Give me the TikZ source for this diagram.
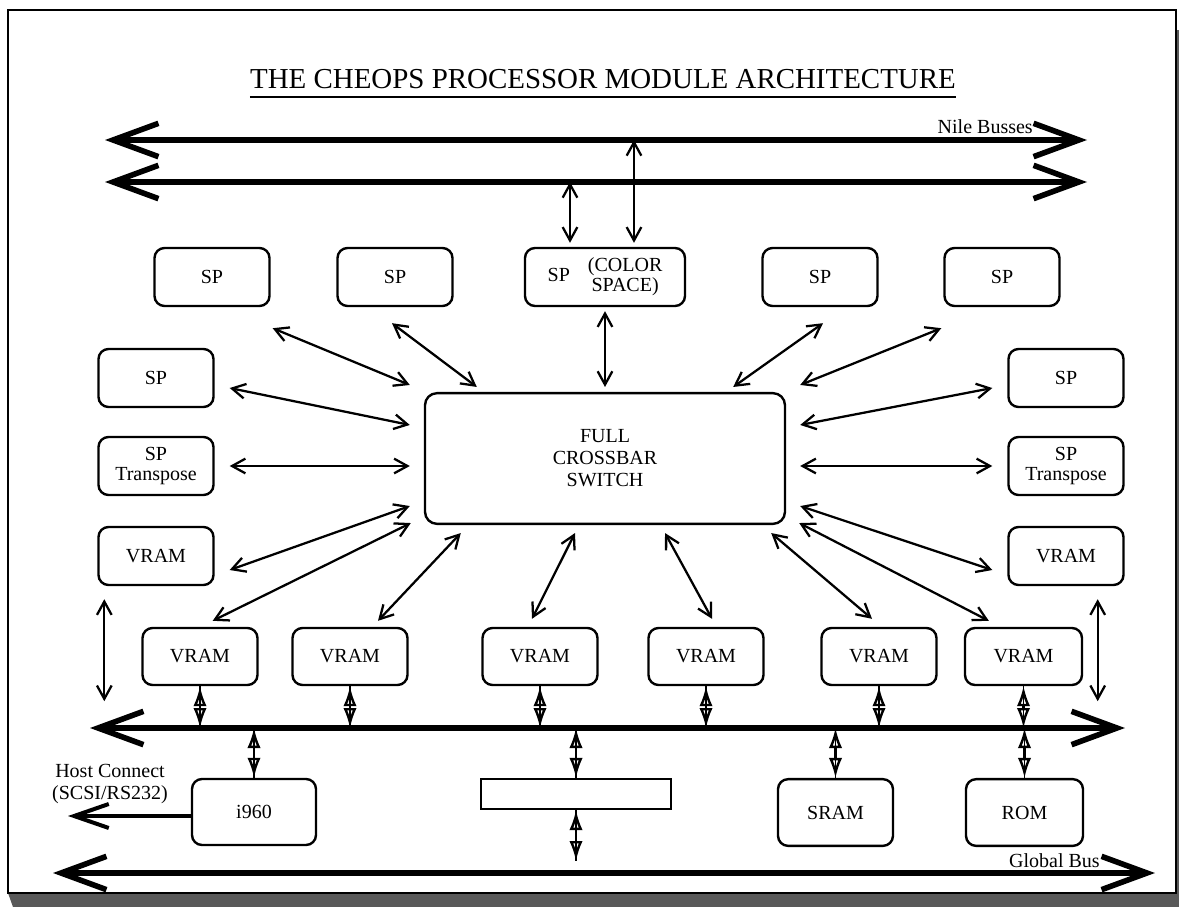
\documentclass[tikz,border=0pt]{standalone}
\usepackage{fontspec}
\setmainfont{Liberation Serif}
\usetikzlibrary{arrows.meta}
\begin{document}
\begin{tikzpicture}[x=0.75pt,y=-0.75pt,
  box/.style={draw,line width=1.8pt,rounded corners=7.5pt,minimum width=86.25pt,
    minimum height=43.5pt,align=center,inner sep=1pt,font=\fontsize{15}{16.5}\selectfont},
  bus/.style={line width=4.2pt,{Straight Barb[length=34pt,width=25pt]}-{Straight Barb[length=34pt,width=25pt]}},
  link/.style={line width=1.7pt,{Straight Barb[length=10pt,width=11pt]}-{Straight Barb[length=10pt,width=11pt]}},
  dia/.style={line width=1.8pt,{Latex[open,length=15pt,width=10pt]}-{Latex[open,length=15pt,width=10pt]}},
  lbl/.style={font=\fontsize{15}{16.5}\selectfont,inner sep=0pt,align=center}]
\useasboundingbox (0,0) rectangle (1179,907);
% frame with shadow
\fill[black!65] (8,893) -- (1179,893) -- (1179,907) -- (13,907) -- cycle;
\fill[black!65] (1176,30) rectangle (1179,893);
\draw[line width=1.8pt] (8,10) rectangle (1176,893);

% title
\node[font=\fontsize{21.7}{24}\selectfont,inner sep=0pt,anchor=base] (title) at (603,88)
  {THE CHEOPS PROCESSOR MODULE ARCHITECTURE};
\draw[line width=1.1pt] ([yshift=-6.75pt]title.base west) -- ([yshift=-6.75pt]title.base east);

% busses
\coordinate (nA1) at (105,140); \coordinate (nA2) at (1087,140);
\coordinate (nB1) at (105,182); \coordinate (nB2) at (1087,182);
\coordinate (lb1) at (90,728);  \coordinate (lb2) at (1125,728);
\coordinate (gb1) at (53,873);  \coordinate (gb2) at (1155,873);
\draw[bus] (nA1) -- (nA2);
\draw[bus] (nB1) -- (nB2);
\draw[bus] (lb1) -- (lb2);
\draw[bus] (gb1) -- (gb2);
\node[lbl,anchor=east] (nile) at (1033,127) {Nile Busses};
\node[lbl,anchor=east] (glob) at (1100,861) {Global Bus};

% top row of stream processors
\node[box] (sp1) at (212,277) {SP};
\node[box] (sp2) at (395,277) {SP};
\node[box,minimum width=120pt] (spc) at (605,277)
  {SP\hspace{0.9em}\begin{tabular}{@{}c@{}}(COLOR\\[-1pt]SPACE)\end{tabular}};
\node[box] (sp4) at (820,277) {SP};
\node[box] (sp5) at (1002,277) {SP};

% side columns
\node[box] (spl) at (156,378) {SP};
\node[box] (tl)  at (156,466) {SP\\[-1pt]Transpose};
\node[box] (vl)  at (156,556) {VRAM};
\node[box] (spr) at (1066,378) {SP};
\node[box] (tr)  at (1066,466) {SP\\[-1pt]Transpose};
\node[box] (vr)  at (1066,556) {VRAM};

% crossbar
\node[box,minimum width=270pt,minimum height=98pt,rounded corners=9pt] (cb) at (605,458.5)
  {FULL\\CROSSBAR\\SWITCH};

% bottom row of VRAM
\node[box,minimum height=42.75pt] (v1) at (200,656.5) {VRAM};
\node[box,minimum height=42.75pt] (v2) at (350,656.5) {VRAM};
\node[box,minimum height=42.75pt] (v3) at (540,656.5) {VRAM};
\node[box,minimum height=42.75pt] (v4) at (706,656.5) {VRAM};
\node[box,minimum height=42.75pt] (v5) at (879,656.5) {VRAM};
\node[box,minimum height=42.75pt,minimum width=87.75pt] (v6) at (1023.5,656.5) {VRAM};

% lower devices
\node[box,minimum width=93pt,minimum height=49.5pt] (cpu) at (254,812) {i960};
\node[draw,line width=1.6pt,minimum width=142.5pt,minimum height=22.5pt] (blank) at (576,794) {};
\node[box,minimum height=50pt] (sram) at (835.5,812.5) {SRAM};
\node[box,minimum height=50pt,minimum width=87.75pt] (rom) at (1024.5,812.5) {ROM};

% colour space SP to Nile busses
\draw[link] ([xshift=-26.25pt,yshift=3pt]spc.north) -- ([xshift=-26.25pt]spc.north |- nB1);
\draw[link] ([xshift=21.75pt,yshift=3pt]spc.north) -- ([xshift=21.75pt]spc.north |- nA1);

% crossbar links
\draw[link] ([shift={(2,21)}]sp1.south east) -- ([shift={(-14,-7)}]cb.north west);
\draw[link] ([shift={(-3,16)}]sp2.south) -- ([shift={(53,-5)}]cb.north west);
\draw[link] ([shift={(0,4)}]spc.south) -- ([shift={(0,-5)}]cb.north);
\draw[link] ([shift={(3,16)}]sp4.south) -- ([shift={(-53,-5)}]cb.north east);
\draw[link] ([shift={(-2,21)}]sp5.south west) -- ([shift={(14,-7)}]cb.north east);
\draw[link] ([shift={(15,10)}]spl.east) -- ([shift={(-14,33)}]cb.north west);
\draw[link] ([shift={(-15,10)}]spr.west) -- ([shift={(14,33)}]cb.north east);
\draw[link] ([shift={(15,0)}]tl.east) -- ([shift={(-14,7.5)}]cb.west);
\draw[link] ([shift={(-15,0)}]tr.west) -- ([shift={(14,7.5)}]cb.east);
\draw[link] ([shift={(15,14)}]vl.east) -- ([shift={(-14,-19)}]cb.south west);
\draw[link] ([shift={(-15,14)}]vr.west) -- ([shift={(14,-19)}]cb.south east);
\draw[link] ([shift={(-46,-6)}]v1.north east) -- ([shift={(-13,-2)}]cb.south west);
\draw[link] ([shift={(28,-6)}]v2.north) -- ([shift={(37,8)}]cb.south west);
\draw[link] ([shift={(-8,-8)}]v3.north) -- ([shift={(-30,8)}]cb.south);
\draw[link] ([shift={(6,-8)}]v4.north) -- ([shift={(60,8)}]cb.south);
\draw[link] ([shift={(-7,-8)}]v5.north) -- ([shift={(-15,8)}]cb.south east);
\draw[link] ([shift={(25,-6)}]v6.north west) -- ([shift={(13,-2)}]cb.south east);

% side VRAM to local bus
\draw[link] ([shift={(7,13)}]vl.south west) -- ([shift={(7,115)}]vl.south west);
\draw[link] ([shift={(-27,13)}]vr.south east) -- ([shift={(-27,115)}]vr.south east);

% VRAM to local bus
\foreach \v in {v1,v2,v3,v4,v5,v6}{
  \draw[line width=1.4pt] (\v.south) -- (\v.south |- lb1);
  \draw[dia] (\v.south) -- (\v.south |- lb1);
}
% devices to local bus
\foreach \d in {cpu,blank,sram,rom}{
  \draw[line width=1.4pt] (\d.north) -- (\d.north |- lb1);
  \draw[dia] (\d.north) -- (\d.north |- lb1);
}
\coordinate (bend) at (576,861);
\draw[line width=1.4pt] (blank.south) -- (bend);
\draw[dia] (blank.south) -- (bend);

% host connection
\coordinate (host) at (68,816);
\draw[line width=3pt,-{Straight Barb[length=26pt,width=18pt]}] ([yshift=-3pt]cpu.west) -- (host);
\node[lbl] (hostlbl) at (110,784) {Host Connect\\(SCSI/RS232)};
\end{tikzpicture}
\end{document}
